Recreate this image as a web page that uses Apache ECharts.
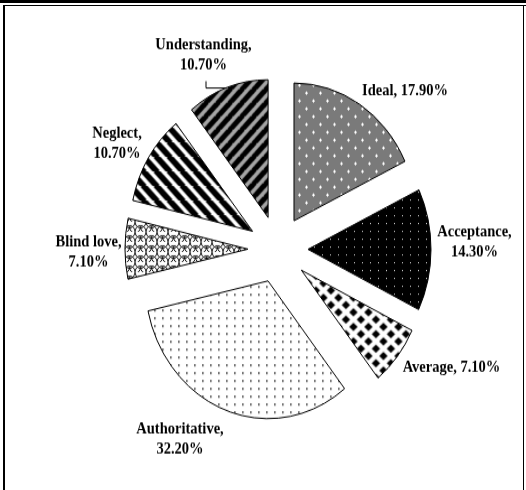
<!DOCTYPE html>
<html>
<head>
<meta charset="utf-8">
<script src="https://cdn.jsdelivr.net/npm/echarts@6/dist/echarts.min.js"></script>
<style>
  html, body { margin: 0; padding: 0; background: #fff; }
  #page { position: relative; width: 526px; height: 490px; overflow: hidden; background: #fff; }
  #chart { position: absolute; left: 0; top: 0; width: 526px; height: 437.5px; transform: scaleY(1.12); transform-origin: 0 0; }
  .ln { position: absolute; background: #000; }
</style>
</head>
<body>
<div id="page">
  <div id="chart"></div>
  <div class="ln" style="left:0;top:0;width:526px;height:3px;"></div>
  <div class="ln" style="left:3px;top:5px;width:523px;height:1px;"></div>
  <div class="ln" style="left:3px;top:5px;width:2px;height:485px;"></div>
  <div class="ln" style="left:523px;top:5px;width:1px;height:485px;"></div>
</div>
<script>
// ---- data ----
const categories = ['Ideal', 'Acceptance', 'Average', 'Authoritative', 'Blind love', 'Neglect', 'Understanding'];
const values = [17.9, 14.3, 7.1, 32.2, 7.1, 10.7, 10.7];
const twoLineLabel = [false, true, false, true, true, true, true];

// ---- layout (unscaled chart coordinates) ----
const labelPos = [[405, 81], [474.5, 216], [451.5, 328.5], [180, 392.5], [88.5, 225], [117, 128.5], [203.5, 49]];
const leaderLine = [[206, 72.5], [206, 78.6], [229, 78.6]];

// ---- patterns ----
function tile(w, h, draw) {
  const c = document.createElement('canvas');
  c.width = w; c.height = h;
  const g = c.getContext('2d');
  draw(g, w, h);
  return c;
}
const patIdeal = tile(14, 14, (g, w, h) => {
  g.fillStyle = '#7a7a7a'; g.fillRect(0, 0, w, h);
  g.fillStyle = '#fff';
  [[3, 3], [10, 10]].forEach(([x, y]) => {
    g.fillRect(x - 1, y, 3, 1); g.fillRect(x, y - 1, 1, 3);
  });
});
const patAccept = tile(8, 7, (g, w, h) => {
  g.fillStyle = '#000'; g.fillRect(0, 0, w, h);
  g.fillStyle = '#ddd'; g.fillRect(4, 3, 1, 1);
});
const patAverage = tile(15, 13, (g, w, h) => {
  g.fillStyle = '#fff'; g.fillRect(0, 0, w, h);
  g.fillStyle = '#000';
  const dia = (cx, cy) => {
    g.beginPath();
    g.moveTo(cx, cy - 3.7); g.lineTo(cx + 4.2, cy); g.lineTo(cx, cy + 3.7); g.lineTo(cx - 4.2, cy);
    g.closePath(); g.fill();
  };
  dia(7.5, 6.5); dia(0, 0); dia(15, 0); dia(0, 13); dia(15, 13);
});
const patAuth = tile(8, 7, (g, w, h) => {
  g.fillStyle = '#fff'; g.fillRect(0, 0, w, h);
  g.fillStyle = '#333'; g.fillRect(4, 3, 1.6, 1.6);
});
const patBlind = tile(11, 9, (g, w, h) => {
  g.fillStyle = '#fff'; g.fillRect(0, 0, w, h);
  g.strokeStyle = '#000'; g.lineWidth = 1;
  g.beginPath(); g.arc(5.5, 0, 5.5, 0, Math.PI); g.stroke();
  g.beginPath(); g.arc(0, 4.5, 5.5, 0, Math.PI); g.stroke();
  g.beginPath(); g.arc(11, 4.5, 5.5, 0, Math.PI); g.stroke();
  g.beginPath(); g.arc(5.5, 9, 5.5, Math.PI, 2 * Math.PI); g.stroke();
});
function stripes(bg, fg, dir, T, lw) {
  return tile(T, T, (g, w, h) => {
    g.fillStyle = bg; g.fillRect(0, 0, w, h);
    g.strokeStyle = fg; g.lineWidth = lw;
    for (let k = -T; k <= T; k += T) {
      g.beginPath();
      if (dir > 0) { g.moveTo(k - 1, -1); g.lineTo(k + T + 1, T + 1); }
      else { g.moveTo(k - 1, T + 1); g.lineTo(k + T + 1, -1); }
      g.stroke();
    }
  });
}
const patNeglect = stripes('#fff', '#000', 1, 13, 5.6);
const patUnder = stripes('#a6a6a6', '#000', -1, 12, 5);
const patterns = [patIdeal, patAccept, patAverage, patAuth, patBlind, patNeglect, patUnder];

// ---- chart ----
const chart = echarts.init(document.getElementById('chart'), null, { renderer: 'canvas' });
const data = categories.map((name, i) => ({
  name: name,
  value: values[i],
  selected: true,
  itemStyle: { color: { image: patterns[i], repeat: 'repeat' } }
}));

const labelFont = 'bold 14.5px "Liberation Serif"';
const labelGraphics = categories.map((name, i) => ({
  type: 'text',
  x: labelPos[i][0],
  y: labelPos[i][1],
  silent: true,
  style: {
    text: name + ',' + (twoLineLabel[i] ? '\n' : ' ') + values[i].toFixed(2) + '%',
    font: labelFont,
    lineHeight: 18,
    fill: '#000',
    align: 'center',
    verticalAlign: 'middle'
  }
}));

chart.setOption({
  animation: false,
  graphic: labelGraphics.concat([{
    type: 'polyline',
    silent: true,
    shape: { points: leaderLine },
    style: { stroke: '#000', lineWidth: 1, fill: null }
  }]),
  series: [{
    type: 'pie',
    center: [278, 222.5],
    radius: 123,
    startAngle: 90,
    clockwise: true,
    selectedMode: 'multiple',
    selectedOffset: 30,
    avoidLabelOverlap: false,
    silent: true,
    itemStyle: { borderColor: '#000', borderWidth: 1 },
    emphasis: { disabled: true, scale: false },
    label: { show: false },
    labelLine: { show: false },
    data: data
  }]
});
</script>
</body>
</html>
